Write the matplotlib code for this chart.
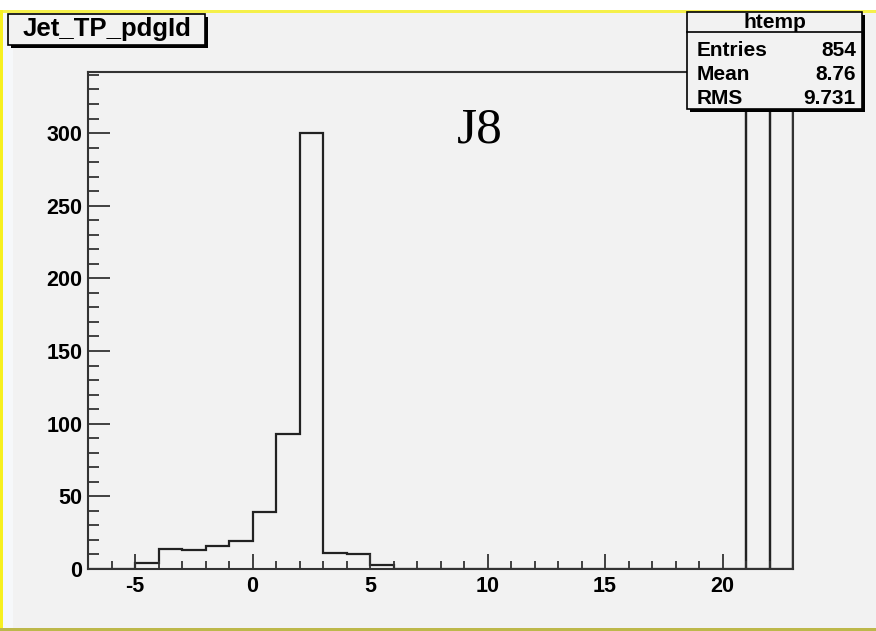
import numpy as np
import matplotlib
matplotlib.use("Agg")
import matplotlib.pyplot as plt
from matplotlib.patches import Rectangle
from matplotlib.ticker import MultipleLocator

# histogram of Jet_TP_pdgId, unit-width bins from -7 to 23
bin_edges = np.arange(-7, 24, 1)
counts = [0, 0, 4, 14, 13, 16, 19, 39, 93, 300, 11, 10, 3,
          0, 0, 0, 0, 0, 0, 0, 0, 0, 0, 0, 0, 0, 0, 0, 326, 320]

hist_name = "Jet_TP_pdgId"
stat_title = "htemp"
stat_labels = ["Entries", "Mean", "RMS"]
stat_values = ["854", "8.76", "9.731"]
tag = "J8"

Y_MAX = 342
W, H = 876, 631
BG = "#f2f2f2"
LINE = "#222222"

plt.rcParams["font.family"] = ["Liberation Sans", "DejaVu Sans"]
plt.rcParams["axes.unicode_minus"] = False


def fx(px):
    return px / W


def fy(py):
    return 1 - py / H


fig = plt.figure(figsize=(W / 100, H / 100), dpi=100, facecolor=BG)

# canvas border bits (white strip on top, yellow frame)
fig.patches.append(Rectangle((0, fy(10)), 1, 10 / H, transform=fig.transFigure,
                             facecolor="white", edgecolor="none", zorder=0))
fig.patches.append(Rectangle((0, fy(13)), 1, 3 / H, transform=fig.transFigure,
                             facecolor="#f5f04a", edgecolor="none", zorder=0))
fig.patches.append(Rectangle((0, 0), 3 / W, fy(10), transform=fig.transFigure,
                             facecolor="#f7f020", edgecolor="none", zorder=0))
fig.patches.append(Rectangle((3 / W, 0), 10 / W, fy(13), transform=fig.transFigure,
                             facecolor="#f6f8fa", edgecolor="none", zorder=0))
fig.patches.append(Rectangle((0, 0), 1, 3 / H, transform=fig.transFigure,
                             facecolor="#bdb84a", edgecolor="none", zorder=0))

ax = fig.add_axes([fx(88), fy(569), fx(793) - fx(88), (569 - 72) / H])
ax.set_facecolor(BG)

ax.stairs(counts, bin_edges, color=LINE, lw=1.6)
# bins running past the stats box are drawn as full outlines
tall = np.array(counts) > 314
ax.bar(bin_edges[:-1][tall], np.array(counts)[tall], width=1, align="edge",
       fill=False, edgecolor=LINE, lw=1.6)

ax.set_xlim(-7, 23)
ax.set_ylim(0, Y_MAX)
ax.xaxis.set_major_locator(MultipleLocator(5))
ax.xaxis.set_minor_locator(MultipleLocator(1))
ax.yaxis.set_major_locator(MultipleLocator(50))
ax.yaxis.set_minor_locator(MultipleLocator(10))
ax.tick_params(axis="x", which="major", direction="in", length=11, width=1.3,
               color="#333333", pad=5, labelsize=15.5)
ax.tick_params(axis="x", which="minor", direction="in", length=5.5, width=1.3,
               color="#333333")
ax.tick_params(axis="y", which="major", direction="in", length=16, width=1.3,
               color="#333333", pad=4, labelsize=15.5)
ax.tick_params(axis="y", which="minor", direction="in", length=8, width=1.3,
               color="#333333")
for lab in ax.get_xticklabels() + ax.get_yticklabels():
    lab.set_fontweight("bold")
for s in ax.spines.values():
    s.set_linewidth(1.5)
    s.set_color("#333333")

fig.text(fx(480), fy(130), tag, family="Liberation Serif", fontsize=37,
         ha="center", va="center", color="black")

# title box with shadow
fig.patches.append(Rectangle((fx(11), fy(48)), 197 / W, 31 / H,
                             transform=fig.transFigure, facecolor="black",
                             edgecolor="none", zorder=3))
fig.patches.append(Rectangle((fx(8), fy(45)), 197 / W, 31 / H,
                             transform=fig.transFigure, facecolor=BG,
                             edgecolor="black", lw=1.2, zorder=4))
fig.text(fx(107), fy(29), hist_name, fontsize=18.5, fontweight="bold",
         ha="center", va="center", zorder=5)

# stats box with shadow
fig.patches.append(Rectangle((fx(690), fy(112)), 175 / W, 97 / H,
                             transform=fig.transFigure, facecolor="black",
                             edgecolor="none", zorder=3))
fig.patches.append(Rectangle((fx(687), fy(109)), 175 / W, 97 / H,
                             transform=fig.transFigure, facecolor=BG,
                             edgecolor="black", lw=1.2, zorder=4))
fig.add_artist(plt.Line2D([fx(687), fx(862)], [fy(32), fy(32)],
                          transform=fig.transFigure, color="black", lw=1.2,
                          zorder=5))
fig.text(fx(775), fy(22), stat_title, fontsize=15, fontweight="bold",
         ha="center", va="center", zorder=5)
for i, (lab, val) in enumerate(zip(stat_labels, stat_values)):
    y = fy(51 + i * 24)
    fig.text(fx(697), y, lab, fontsize=15, fontweight="bold",
             ha="left", va="center", zorder=5)
    fig.text(fx(856), y, val, fontsize=15, fontweight="bold",
             ha="right", va="center", zorder=5)

fig.savefig("out.png", dpi=100, facecolor=fig.get_facecolor())
